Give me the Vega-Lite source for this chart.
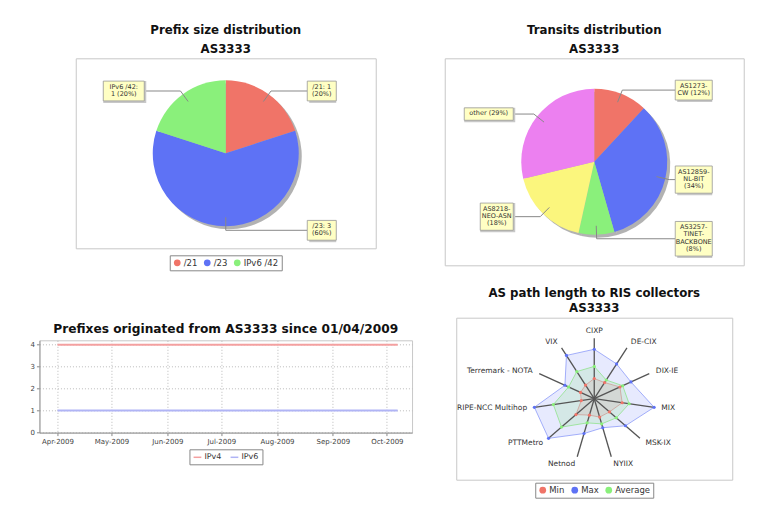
{
  "$schema": "https://vega.github.io/schema/vega-lite/v6.json",
  "background": "white",
  "padding": {"left": 29, "top": 24.3, "right": 5, "bottom": 5},
  "config": {
    "font": "DejaVu Sans",
    "view": {"stroke": "#c8c8c8", "strokeWidth": 1},
    "title": {"fontSize": 11.8, "fontWeight": "bold", "color": "#111", "anchor": "middle"},
    "legend": {"strokeColor": "#888", "padding": 3, "labelFontSize": 8, "labelColor": "#333", "columnPadding": 5, "labelOffset": 2, "layout": {"bottom": {"anchor": "middle"}}}
  },
  "resolve": {"scale": {"color": "independent", "x": "independent", "y": "independent"}},
  "spacing": 30.5,
  "hconcat": [
    {
      "vconcat": [
        {
          "width": 300,
          "height": 190,
          "title": {"text": ["Prefix size distribution", "AS3333"], "lineHeight": 19, "offset": 2},
          "data": {"values": [
            {"prefix": "/21", "count": 1, "lines": ["/21: 1", "(20%)"]},
            {"prefix": "/23", "count": 3, "lines": ["/23: 3", "(60%)"]},
            {"prefix": "IPv6 /42", "count": 1, "lines": ["IPv6 /42:", "1 (20%)"]}
          ]},
          "transform": [
            {"stack": "count", "groupby": [], "sort": [{"field": "prefix", "order": "ascending"}], "as": ["s0", "s1"]},
            {"joinaggregate": [{"op": "sum", "field": "count", "as": "total"}]},
            {"calculate": "2*PI*datum.s0/datum.total", "as": "a0"},
            {"calculate": "2*PI*datum.s1/datum.total", "as": "a1"},
            {"calculate": "(datum.a0+datum.a1)/2", "as": "am"},
            {"calculate": "sin(datum.am) >= 0 ? 1 : -1", "as": "side"},
            {"calculate": "64*sin(datum.am)", "as": "lx0"},
            {"calculate": "64*cos(datum.am)", "as": "ly0"},
            {"calculate": "77*sin(datum.am)", "as": "lx1"},
            {"calculate": "77*cos(datum.am)", "as": "ly1"},
            {"calculate": "81.5*datum.side", "as": "lx2"},
            {"calculate": "max(length(datum.lines[0]), length(datum.lines[1] || ''), length(datum.lines[2] || ''), length(datum.lines[3] || ''))*4.0+5", "as": "bw"},
            {"calculate": "length(datum.lines)*7.4+5", "as": "bh"},
            {"calculate": "datum.lx2 + datum.side*datum.bw", "as": "bx2"},
            {"calculate": "datum.lx2 + datum.side*datum.bw/2", "as": "tx"},
            {"calculate": "datum.ly1 - datum.bh/2", "as": "by0"},
            {"calculate": "datum.ly1 + datum.bh/2", "as": "by1"}
          ],
          "layer": [
            {
              "mark": {"type": "arc", "outerRadius": 73, "fill": "#666", "opacity": 0.5, "xOffset": 3, "yOffset": 3},
              "encoding": {"theta": {"field": "a0", "type": "quantitative", "scale": null}, "theta2": {"field": "a1"}}
            },
            {
              "mark": {"type": "arc", "outerRadius": 73},
              "encoding": {
                "theta": {"field": "a0", "type": "quantitative", "scale": null},
                "theta2": {"field": "a1"},
                "color": {"field": "prefix", "type": "nominal",
                  "scale": {"domain": ["/21", "/23", "IPv6 /42"], "range": ["#F07468", "#5E72F5", "#8AF07B"]},
                  "legend": {"orient": "bottom", "direction": "horizontal", "title": null, "symbolType": "circle", "symbolSize": 45, "offset": 7, "labelFontSize": 8.5}}
              }
            },
            {
              "mark": {"type": "rule", "color": "#888", "strokeWidth": 1},
              "encoding": {
                "x": {"field": "lx0", "type": "quantitative", "scale": {"domain": [-150, 150], "nice": false}, "axis": null},
                "y": {"field": "ly0", "type": "quantitative", "scale": {"domain": [-95, 95], "nice": false}, "axis": null},
                "x2": {"field": "lx1"}, "y2": {"field": "ly1"}
              }
            },
            {
              "mark": {"type": "rule", "color": "#888", "strokeWidth": 1},
              "encoding": {
                "x": {"field": "lx1", "type": "quantitative", "scale": {"domain": [-150, 150], "nice": false}, "axis": null},
                "y": {"field": "ly1", "type": "quantitative", "scale": {"domain": [-95, 95], "nice": false}, "axis": null},
                "x2": {"field": "lx2"}
              }
            },
            {
              "mark": {"type": "rect", "fill": "#c8c8c8", "xOffset": 2, "yOffset": 2},
              "encoding": {
                "x": {"field": "lx2", "type": "quantitative", "scale": {"domain": [-150, 150], "nice": false}, "axis": null},
                "x2": {"field": "bx2"},
                "y": {"field": "by0", "type": "quantitative", "scale": {"domain": [-95, 95], "nice": false}, "axis": null},
                "y2": {"field": "by1"}
              }
            },
            {
              "mark": {"type": "rect", "fill": "#FFFFC4", "stroke": "#999", "strokeWidth": 0.8},
              "encoding": {
                "x": {"field": "lx2", "type": "quantitative", "scale": {"domain": [-150, 150], "nice": false}, "axis": null},
                "x2": {"field": "bx2"},
                "y": {"field": "by0", "type": "quantitative", "scale": {"domain": [-95, 95], "nice": false}, "axis": null},
                "y2": {"field": "by1"}
              }
            },
            {
              "mark": {"type": "text", "fontSize": 6.5, "color": "#333", "baseline": "top", "lineHeight": 7.4, "dy": 2.6},
              "encoding": {
                "x": {"field": "tx", "type": "quantitative", "scale": {"domain": [-150, 150], "nice": false}, "axis": null},
                "y": {"field": "by1", "type": "quantitative", "scale": {"domain": [-95, 95], "nice": false}, "axis": null},
                "text": {"field": "lines"}
              }
            }
          ]
        },
        {
          "width": 372.6,
          "height": 92.3,
          "title": {"text": "Prefixes originated from AS3333 since 01/04/2009", "fontSize": 12.2, "offset": 5},
          "data": {"values": [
            {"date": "2009-04-01T00:00:00", "type": "IPv4", "prefixes": 4},
            {"date": "2009-05-01T00:00:00", "type": "IPv4", "prefixes": 4},
            {"date": "2009-06-01T00:00:00", "type": "IPv4", "prefixes": 4},
            {"date": "2009-07-01T00:00:00", "type": "IPv4", "prefixes": 4},
            {"date": "2009-08-01T00:00:00", "type": "IPv4", "prefixes": 4},
            {"date": "2009-09-01T00:00:00", "type": "IPv4", "prefixes": 4},
            {"date": "2009-10-01T00:00:00", "type": "IPv4", "prefixes": 4},
            {"date": "2009-10-07T00:00:00", "type": "IPv4", "prefixes": 4},
            {"date": "2009-04-01T00:00:00", "type": "IPv6", "prefixes": 1},
            {"date": "2009-05-01T00:00:00", "type": "IPv6", "prefixes": 1},
            {"date": "2009-06-01T00:00:00", "type": "IPv6", "prefixes": 1},
            {"date": "2009-07-01T00:00:00", "type": "IPv6", "prefixes": 1},
            {"date": "2009-08-01T00:00:00", "type": "IPv6", "prefixes": 1},
            {"date": "2009-09-01T00:00:00", "type": "IPv6", "prefixes": 1},
            {"date": "2009-10-01T00:00:00", "type": "IPv6", "prefixes": 1},
            {"date": "2009-10-07T00:00:00", "type": "IPv6", "prefixes": 1}
          ]},
          "mark": {"type": "line", "strokeWidth": 2},
          "encoding": {
            "x": {"field": "date", "type": "temporal",
              "scale": {"domain": [{"year": 2009, "month": 3, "date": 22}, {"year": 2009, "month": 10, "date": 15}], "nice": false},
              "axis": {"format": "%b-%Y", "tickCount": {"interval": "month", "step": 1}, "labelFontSize": 7, "labelColor": "#444", "title": null, "gridDash": [1, 2], "gridColor": "#bbb", "tickSize": 3, "tickColor": "#888", "domainColor": "#999", "labelFlush": false, "labelPadding": 2}},
            "y": {"field": "prefixes", "type": "quantitative",
              "scale": {"domain": [0, 4.2], "nice": false},
              "axis": {"values": [0, 1, 2, 3, 4], "format": "d", "title": null, "labelFontSize": 7, "labelColor": "#444", "gridDash": [1, 2], "gridColor": "#bbb", "tickSize": 3, "tickColor": "#888", "domainColor": "#999", "labelPadding": 2, "minExtent": 9, "maxExtent": 9}},
            "color": {"field": "type", "type": "nominal",
              "scale": {"domain": ["IPv4", "IPv6"], "range": ["#F4A0A0", "#B0B4F5"]},
              "legend": {"orient": "bottom", "direction": "horizontal", "title": null, "offset": 4, "symbolStrokeWidth": 1.5, "symbolSize": 60, "labelFontSize": 8}}
          }
        }
      ],
      "spacing": 51,
      "center": true,
      "resolve": {"scale": {"color": "independent", "x": "independent", "y": "independent"}}
    },
    {
      "vconcat": [
        {
          "width": 299,
          "height": 207,
          "title": {"text": ["Transits distribution", "AS3333"], "lineHeight": 19, "offset": 2},
          "data": {"values": [
            {"transit": "AS1273-CW", "pct": 12, "lines": ["AS1273-", "CW (12%)"]},
            {"transit": "AS12859-NL-BIT", "pct": 34, "lines": ["AS12859-", "NL-BIT", "(34%)"]},
            {"transit": "AS3257-TINET-BACKBONE", "pct": 8, "lines": ["AS3257-", "TINET-", "BACKBONE", "(8%)"]},
            {"transit": "AS8218-NEO-ASN", "pct": 18, "lines": ["AS8218-", "NEO-ASN", "(18%)"]},
            {"transit": "other", "pct": 29, "lines": ["other (29%)"]}
          ]},
          "transform": [
            {"stack": "pct", "groupby": [], "sort": [{"field": "transit", "order": "ascending"}], "as": ["s0", "s1"]},
            {"joinaggregate": [{"op": "sum", "field": "pct", "as": "total"}]},
            {"calculate": "2*PI*datum.s0/datum.total", "as": "a0"},
            {"calculate": "2*PI*datum.s1/datum.total", "as": "a1"},
            {"calculate": "(datum.a0+datum.a1)/2", "as": "am"},
            {"calculate": "sin(datum.am) >= 0 ? 1 : -1", "as": "side"},
            {"calculate": "64*sin(datum.am)", "as": "lx0"},
            {"calculate": "64*cos(datum.am)", "as": "ly0"},
            {"calculate": "77*sin(datum.am)", "as": "lx1"},
            {"calculate": "77*cos(datum.am)", "as": "ly1"},
            {"calculate": "81*datum.side", "as": "lx2"},
            {"calculate": "max(length(datum.lines[0]), length(datum.lines[1] || ''), length(datum.lines[2] || ''), length(datum.lines[3] || ''))*4.0+5", "as": "bw"},
            {"calculate": "length(datum.lines)*7.4+5", "as": "bh"},
            {"calculate": "datum.lx2 + datum.side*datum.bw", "as": "bx2"},
            {"calculate": "datum.lx2 + datum.side*datum.bw/2", "as": "tx"},
            {"calculate": "datum.ly1 - datum.bh/2", "as": "by0"},
            {"calculate": "datum.ly1 + datum.bh/2", "as": "by1"}
          ],
          "layer": [
            {
              "mark": {"type": "arc", "outerRadius": 73, "fill": "#666", "opacity": 0.5, "xOffset": 3, "yOffset": 3},
              "encoding": {"theta": {"field": "a0", "type": "quantitative", "scale": null}, "theta2": {"field": "a1"}}
            },
            {
              "mark": {"type": "arc", "outerRadius": 73},
              "encoding": {
                "theta": {"field": "a0", "type": "quantitative", "scale": null},
                "theta2": {"field": "a1"},
                "color": {"field": "transit", "type": "nominal",
                  "scale": {"domain": ["AS1273-CW", "AS12859-NL-BIT", "AS3257-TINET-BACKBONE", "AS8218-NEO-ASN", "other"], "range": ["#F07468", "#5E72F5", "#8AF07B", "#FBF67D", "#EC80F0"]},
                  "legend": null}
              }
            },
            {
              "mark": {"type": "rule", "color": "#888", "strokeWidth": 1},
              "encoding": {
                "x": {"field": "lx0", "type": "quantitative", "scale": {"domain": [-149.5, 149.5], "nice": false}, "axis": null},
                "y": {"field": "ly0", "type": "quantitative", "scale": {"domain": [-103.5, 103.5], "nice": false}, "axis": null},
                "x2": {"field": "lx1"}, "y2": {"field": "ly1"}
              }
            },
            {
              "mark": {"type": "rule", "color": "#888", "strokeWidth": 1},
              "encoding": {
                "x": {"field": "lx1", "type": "quantitative", "scale": {"domain": [-149.5, 149.5], "nice": false}, "axis": null},
                "y": {"field": "ly1", "type": "quantitative", "scale": {"domain": [-103.5, 103.5], "nice": false}, "axis": null},
                "x2": {"field": "lx2"}
              }
            },
            {
              "mark": {"type": "rect", "fill": "#c8c8c8", "xOffset": 2, "yOffset": 2},
              "encoding": {
                "x": {"field": "lx2", "type": "quantitative", "scale": {"domain": [-149.5, 149.5], "nice": false}, "axis": null},
                "x2": {"field": "bx2"},
                "y": {"field": "by0", "type": "quantitative", "scale": {"domain": [-103.5, 103.5], "nice": false}, "axis": null},
                "y2": {"field": "by1"}
              }
            },
            {
              "mark": {"type": "rect", "fill": "#FFFFC4", "stroke": "#999", "strokeWidth": 0.8},
              "encoding": {
                "x": {"field": "lx2", "type": "quantitative", "scale": {"domain": [-149.5, 149.5], "nice": false}, "axis": null},
                "x2": {"field": "bx2"},
                "y": {"field": "by0", "type": "quantitative", "scale": {"domain": [-103.5, 103.5], "nice": false}, "axis": null},
                "y2": {"field": "by1"}
              }
            },
            {
              "mark": {"type": "text", "fontSize": 6.5, "color": "#333", "baseline": "top", "lineHeight": 7.4, "dy": 2.6},
              "encoding": {
                "x": {"field": "tx", "type": "quantitative", "scale": {"domain": [-149.5, 149.5], "nice": false}, "axis": null},
                "y": {"field": "by1", "type": "quantitative", "scale": {"domain": [-103.5, 103.5], "nice": false}, "axis": null},
                "text": {"field": "lines"}
              }
            }
          ]
        },
        {
          "width": 276,
          "height": 162,
          "title": {"text": ["AS path length to RIS collectors", "AS3333"], "lineHeight": 15, "offset": 2.6},
          "data": {"values": [
            {"collector": "CIXP", "Min": 2.0, "Max": 4.9, "Average": 3.2},
            {"collector": "DE-CIX", "Min": 1.9, "Max": 4.1, "Average": 2.2},
            {"collector": "DIX-IE", "Min": 2.8, "Max": 4.0, "Average": 3.1},
            {"collector": "MIX", "Min": 2.8, "Max": 6.0, "Average": 3.5},
            {"collector": "MSK-IX", "Min": 2.0, "Max": 4.1, "Average": 2.9},
            {"collector": "NYIIX", "Min": 1.9, "Max": 3.0, "Average": 2.6},
            {"collector": "Netnod", "Min": 1.7, "Max": 3.6, "Average": 2.5},
            {"collector": "PTTMetro", "Min": 2.4, "Max": 6.0, "Average": 4.3},
            {"collector": "RIPE-NCC Multihop", "Min": 1.3, "Max": 6.0, "Average": 4.1},
            {"collector": "Terremark - NOTA", "Min": 1.5, "Max": 3.2, "Average": 2.8},
            {"collector": "VIX", "Min": 1.6, "Max": 5.1, "Average": 3.2}
          ]},
          "transform": [
            {"calculate": "indexof(['CIXP','DE-CIX','DIX-IE','MIX','MSK-IX','NYIIX','Netnod','PTTMetro','RIPE-NCC Multihop','Terremark - NOTA','VIX'], datum.collector)", "as": "k"},
            {"calculate": "2*PI*datum.k/11", "as": "ang"},
            {"calculate": "0", "as": "o"},
            {"calculate": "6*sin(datum.ang)", "as": "sx"},
            {"calculate": "6*cos(datum.ang)", "as": "sy"},
            {"calculate": "6.72*sin(datum.ang)", "as": "tx"},
            {"calculate": "6.72*cos(datum.ang)", "as": "ty"},
            {"calculate": "sin(datum.ang) > 0.1 ? 'R' : (sin(datum.ang) < -0.1 ? 'L' : 'C')", "as": "side"}
          ],
          "layer": [
            {
              "transform": [
                {"fold": ["Min", "Max", "Average"], "as": ["series", "value"]},
                {"calculate": "datum.value*sin(datum.ang)", "as": "px"},
                {"calculate": "datum.value*cos(datum.ang)", "as": "py"}
              ],
              "mark": {"type": "line", "interpolate": "linear-closed", "fillOpacity": 0.15, "strokeWidth": 1, "strokeOpacity": 0.55},
              "encoding": {
                "x": {"field": "px", "type": "quantitative", "scale": {"domain": [-13.69, 13.69], "nice": false}, "axis": null},
                "y": {"field": "py", "type": "quantitative", "scale": {"domain": [-8.03, 8.03], "nice": false}, "axis": null},
                "order": {"field": "k", "type": "quantitative"},
                "detail": {"field": "series"},
                "fill": {"field": "series", "type": "nominal", "scale": {"domain": ["Min", "Max", "Average"], "range": ["#F07468", "#5E72F5", "#6EE060"]}, "legend": null},
                "stroke": {"field": "series", "type": "nominal", "scale": {"domain": ["Min", "Max", "Average"], "range": ["#F07468", "#5E72F5", "#6EE060"]}, "legend": null}
              }
            },
            {
              "mark": {"type": "rule", "color": "#555", "strokeWidth": 1.3},
              "encoding": {
                "x": {"field": "o", "type": "quantitative", "scale": {"domain": [-13.69, 13.69], "nice": false}, "axis": null},
                "y": {"field": "o", "type": "quantitative", "scale": {"domain": [-8.03, 8.03], "nice": false}, "axis": null},
                "x2": {"field": "sx"}, "y2": {"field": "sy"}
              }
            },
            {
              "transform": [
                {"fold": ["Min", "Max", "Average"], "as": ["series", "value"]},
                {"calculate": "datum.value*sin(datum.ang)", "as": "px"},
                {"calculate": "datum.value*cos(datum.ang)", "as": "py"}
              ],
              "mark": {"type": "point", "filled": true, "size": 10, "opacity": 1},
              "encoding": {
                "x": {"field": "px", "type": "quantitative", "scale": {"domain": [-13.69, 13.69], "nice": false}, "axis": null},
                "y": {"field": "py", "type": "quantitative", "scale": {"domain": [-8.03, 8.03], "nice": false}, "axis": null},
                "color": {"field": "series", "type": "nominal",
                  "scale": {"domain": ["Min", "Max", "Average"], "range": ["#F07468", "#5E72F5", "#8AF07B"]},
                  "legend": {"orient": "bottom", "direction": "horizontal", "title": null, "symbolType": "circle", "symbolSize": 45, "offset": 3, "labelFontSize": 8.5, "symbolOpacity": 1}}
              }
            },
            {
              "transform": [{"filter": "datum.side == 'R'"}],
              "mark": {"type": "text", "fontSize": 7.5, "color": "#333", "align": "left", "baseline": "middle"},
              "encoding": {
                "x": {"field": "tx", "type": "quantitative", "scale": {"domain": [-13.69, 13.69], "nice": false}, "axis": null},
                "y": {"field": "ty", "type": "quantitative", "scale": {"domain": [-8.03, 8.03], "nice": false}, "axis": null},
                "text": {"field": "collector"}
              }
            },
            {
              "transform": [{"filter": "datum.side == 'L'"}],
              "mark": {"type": "text", "fontSize": 7.5, "color": "#333", "align": "right", "baseline": "middle"},
              "encoding": {
                "x": {"field": "tx", "type": "quantitative", "scale": {"domain": [-13.69, 13.69], "nice": false}, "axis": null},
                "y": {"field": "ty", "type": "quantitative", "scale": {"domain": [-8.03, 8.03], "nice": false}, "axis": null},
                "text": {"field": "collector"}
              }
            },
            {
              "transform": [{"filter": "datum.side == 'C'"}],
              "mark": {"type": "text", "fontSize": 7.5, "color": "#333", "align": "center", "baseline": "middle"},
              "encoding": {
                "x": {"field": "tx", "type": "quantitative", "scale": {"domain": [-13.69, 13.69], "nice": false}, "axis": null},
                "y": {"field": "ty", "type": "quantitative", "scale": {"domain": [-8.03, 8.03], "nice": false}, "axis": null},
                "text": {"field": "collector"}
              }
            }
          ]
        }
      ],
      "spacing": 21.4,
      "center": true,
      "resolve": {"scale": {"color": "independent", "x": "independent", "y": "independent"}}
    }
  ]
}
